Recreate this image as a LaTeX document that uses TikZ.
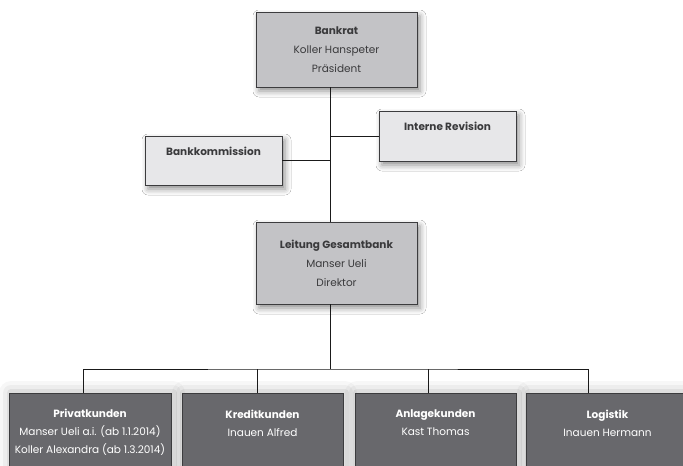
\documentclass[tikz,border=0pt]{standalone}
\usepackage{fontspec}
\setmainfont{Poppins}
\usepackage{tikz}
\usetikzlibrary{positioning,calc,shadows.blur}
\definecolor{ink}{HTML}{1A1A1A}
\definecolor{frame}{HTML}{3C3C3E}
\definecolor{midgray}{HTML}{C3C3C6}
\definecolor{lightgray}{HTML}{E7E7E9}
\definecolor{darkgray}{HTML}{68686C}
\definecolor{textgray}{HTML}{3A3A3C}
\tikzset{
  orgbox/.style={draw=frame,line width=0.8pt,align=center,inner sep=2pt,
                 font=\fontsize{10.5}{19}\selectfont,text=textgray,
                 blur shadow={shadow xshift=3pt,shadow yshift=-4pt,
                              shadow blur radius=6pt,shadow opacity=45}},
  topbox/.style={orgbox,fill=midgray,minimum width=161,minimum height=75},
  sidebox/.style={orgbox,fill=lightgray,minimum width=137,minimum height=50},
  glow/.style 2 args={preaction={draw=black,opacity=#1,line width=#2,
                      line join=round,transform canvas={xshift=2pt}}},
  unitbox/.style={draw=frame,line width=0.8pt,align=center,inner sep=2pt,
                  fill=darkgray,text=white,minimum width=161,
                  minimum height=78,font=\fontsize{10.5}{18}\selectfont,
                  glow={0.03}{24pt},glow={0.04}{16pt},glow={0.06}{8pt}},
  link/.style={draw=ink,line width=0.8pt}
}
\begin{document}
\begin{tikzpicture}[x=1pt,y=-1pt]
  \path[use as bounding box] (0,0) rectangle (683,466);
  \clip (0,0) rectangle (683,466);
  \fill[white] (0,0) rectangle (683,466);
  % trunk of the chart
  \coordinate (trunk) at (330,0);
  \coordinate (bus) at (330,369);
  % boxes
  \node[topbox] (bankrat) at (336.5,49.5)
    {\textbf{Bankrat}\\Koller Hanspeter\\Präsident};
  \node[sidebox] (revision) at (447.5,136)
    {\textbf{Interne Revision}\\\mbox{}};
  \node[sidebox,minimum height=49] (kommission) at (213.5,160.5)
    {\textbf{Bankkommission}\\\mbox{}};
  \node[topbox,minimum height=82] (leitung) at (336.5,263)
    {\textbf{Leitung Gesamtbank}\\Manser Ueli\\Direktor};
  \node[unitbox,minimum width=162] (privat) at (90,432)
    {\textbf{Privatkunden}\\Manser Ueli a.i. (ab 1.1.2014)\\Koller Alexandra (ab 1.3.2014)};
  \node[unitbox] (kredit) at (262.5,432)
    {\textbf{Kreditkunden}\\Inauen Alfred\\\mbox{}};
  \node[unitbox] (anlage) at (435.5,432)
    {\textbf{Anlagekunden}\\Kast Thomas\\\mbox{}};
  \node[unitbox,minimum width=162] (logistik) at (607.5,432)
    {\textbf{Logistik}\\Inauen Hermann\\\mbox{}};
  % connectors
  \draw[link] (bankrat.south -| trunk) -- (leitung.north -| trunk);
  \draw[link] (revision.west) -- (revision.west -| trunk);
  \draw[link] (kommission.east) -- (kommission.east -| trunk);
  \draw[link] (leitung.south -| trunk) -- (bus);
  \draw[link] ([xshift=-7pt]privat.north) |- (bus)
              -| ([xshift=-19.5pt]logistik.north);
  \draw[link] ([xshift=-5.5pt]kredit.north) -- ++(0,-24);
  \draw[link] ([xshift=-7.5pt]anlage.north) -- ++(0,-24);
\end{tikzpicture}
\end{document}
